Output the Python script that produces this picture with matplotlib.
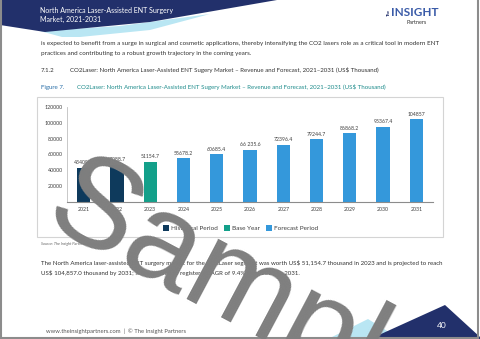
import matplotlib
matplotlib.use("Agg")
import matplotlib.pyplot as plt
from matplotlib.patches import Polygon, Rectangle

years = ["2021", "2022", "2023", "2024", "2025", "2026", "2027", "2028", "2029", "2030", "2031"]
values = [43409.8, 47088.7, 51154.7, 55678.2, 60685.4, 66235.6, 72396.4, 79244.7, 86868.2, 95367.4, 104857.0]
value_labels = ["43409.8", "47088.7", "51154.7", "55678.2", "60685.4", "66 235.6", "72396.4", "79244.7", "86868.2", "95367.4", "104857"]
periods = ["Historical Period", "Historical Period", "Base Year"] + ["Forecast Period"] * 8
period_colors = {"Historical Period": "#0e3a5c", "Base Year": "#13a08a", "Forecast Period": "#3498db"}
yticks = [20000, 40000, 60000, 80000, 100000, 120000]

plt.rcParams['font.family'] = ['Lato', 'DejaVu Sans']

W, H = 480, 339
fig = plt.figure(figsize=(4.8, 3.39), dpi=100)
fig.patch.set_facecolor("white")

bg = fig.add_axes([0, 0, 1, 1], zorder=0)
bg.set_xlim(0, W)
bg.set_ylim(H, 0)
bg.axis("off")

navy = "#22306b"
light = "#b9e6f3"
# header shapes
bg.add_patch(Polygon([(40, 31), (62, 37), (80, 37), (150, 30), (210, 14), (120, 26)], closed=True, fc=light, ec="none"))
bg.add_patch(Polygon([(0, 0), (277, 0), (150, 22), (45, 32), (0, 25)], closed=True, fc=navy, ec="none"))
bg.text(40, 10, "North America Laser-Assisted ENT Surgery", color="white", fontsize=5, va="center", ha="left")
bg.text(40, 19, "Market, 2021-2031", color="white", fontsize=5, va="center", ha="left")
# logo
bg.text(389, 12, "The", color=navy, fontsize=3, rotation=90, va="center", ha="center", fontweight="bold")
bg.text(391, 12, "INSIGHT", color="#3a5ba8", fontsize=8.5, va="center", ha="left", fontweight="bold")
bg.text(417, 22, "Partners", color="#333333", fontsize=4, va="center", ha="center")

# body text
tc = "#333333"
bg.text(41, 43, "is expected to benefit from a surge in surgical and cosmetic applications, thereby intensifying the CO2 lasers role as a critical tool in modern ENT",
        fontsize=4.5, color=tc, va="center", ha="left")
bg.text(41, 54, "practices and contributing to a robust growth trajectory in the coming years.",
        fontsize=4.5, color=tc, va="center", ha="left")
bg.text(41, 70, "7.1.2", fontsize=4.4, color=tc, va="center", ha="left")
bg.text(70, 70, "CO2Laser: North America Laser-Assisted ENT Sugery Market \u2013 Revenue and Forecast, 2021\u20132031 (US$ Thousand)",
        fontsize=4.4, color=tc, va="center", ha="left")
teal = "#1f8c8c"
bg.text(41, 87, "Figure 7.", fontsize=4.4, color="#2a6fa8", va="center", ha="left")
bg.text(77, 87, "CO2Laser: North America Laser-Assisted ENT Sugery Market \u2013 Revenue and Forecast, 2021\u20132031 (US$ Thousand)",
        fontsize=4.4, color=teal, va="center", ha="left")

# chart box
bg.add_patch(Rectangle((37, 97), 406, 140, fc="white", ec="#d4d4d4", lw=0.8))

# legend
for x0, lab in [(163, "Historical Period"), (224, "Base Year"), (266, "Forecast Period")]:
    bg.add_patch(Rectangle((x0, 224.5), 6, 6, fc=period_colors[lab], ec="none"))
    bg.text(x0 + 8, 228, lab, fontsize=4.6, color="#404040", va="center", ha="left")

bg.text(41, 244, "Source: The Insight Partners Analysis", fontsize=2.8, color="#666666", va="center", ha="left", style="italic")

bg.text(41, 263, "The North America laser-assisted ENT surgery market for the CO2Laser segment was worth US$ 51,154.7 thousand in 2023 and is projected to reach",
        fontsize=4.4, color=tc, va="center", ha="left")
bg.text(41, 273, "US$ 104,857.0 thousand by 2031; it is expected to register a CAGR of 9.4% from 2023 to 2031.",
        fontsize=4.4, color=tc, va="center", ha="left")

# footer
bg.add_patch(Polygon([(328, 339), (368, 319), (400, 339)], closed=True, fc=light, ec="none"))
bg.add_patch(Polygon([(370, 339), (445, 305), (480, 337), (480, 339)], closed=True, fc=navy, ec="none"))
bg.text(442, 325, "40", color="white", fontsize=6, va="center", ha="center")
bg.text(46, 331, "www.theinsightpartners.com  |  \u00a9 The Insight Partners", fontsize=4.2, color="#555555", va="center", ha="left")

# page border
bg.add_patch(Rectangle((1, -2), 477, 339.5, fc="none", ec="#8c8c8c", lw=1.5))

# chart axes
ax = fig.add_axes([67 / W, (H - 202) / H, (433 - 67) / W, (202 - 107) / H], zorder=2)
ax.patch.set_alpha(0)
x = range(len(years))
cols = [period_colors[p] for p in periods]
bars = ax.bar(x, values, width=0.4, color=cols, edgecolor="none")
for xi, v, lab in zip(x, values, value_labels):
    ax.text(xi, v + 3000, lab, ha="center", va="bottom", fontsize=3.7, color="#404040")
ax.set_xlim(-0.5, len(years) - 0.5)
ax.set_ylim(0, 120000)
ax.set_yticks(yticks)
ax.set_yticklabels([str(t) for t in yticks])
ax.set_xticks(list(x))
ax.set_xticklabels(years)
ax.tick_params(axis="both", length=0, labelsize=3.8, colors="#404040")
ax.tick_params(axis="x", pad=3.5)
ax.tick_params(axis="y", pad=3)
for s in ["top", "right"]:
    ax.spines[s].set_visible(False)
ax.spines["left"].set_color("#bfbfbf")
ax.spines["left"].set_linewidth(0.6)
ax.spines["bottom"].set_color("#8c8c8c")
ax.spines["bottom"].set_linewidth(0.8)

# watermark
wm = fig.add_axes([0, 0, 1, 1], zorder=5)
wm.set_xlim(0, W)
wm.set_ylim(H, 0)
wm.axis("off")
wm.patch.set_alpha(0)
wm.text(247, 297, "Sample", fontsize=92, color="#7f7f7f", rotation=-28, rotation_mode="anchor",
        ha="center", va="center", family="Liberation Sans")

fig.savefig("out.png", dpi=100)
